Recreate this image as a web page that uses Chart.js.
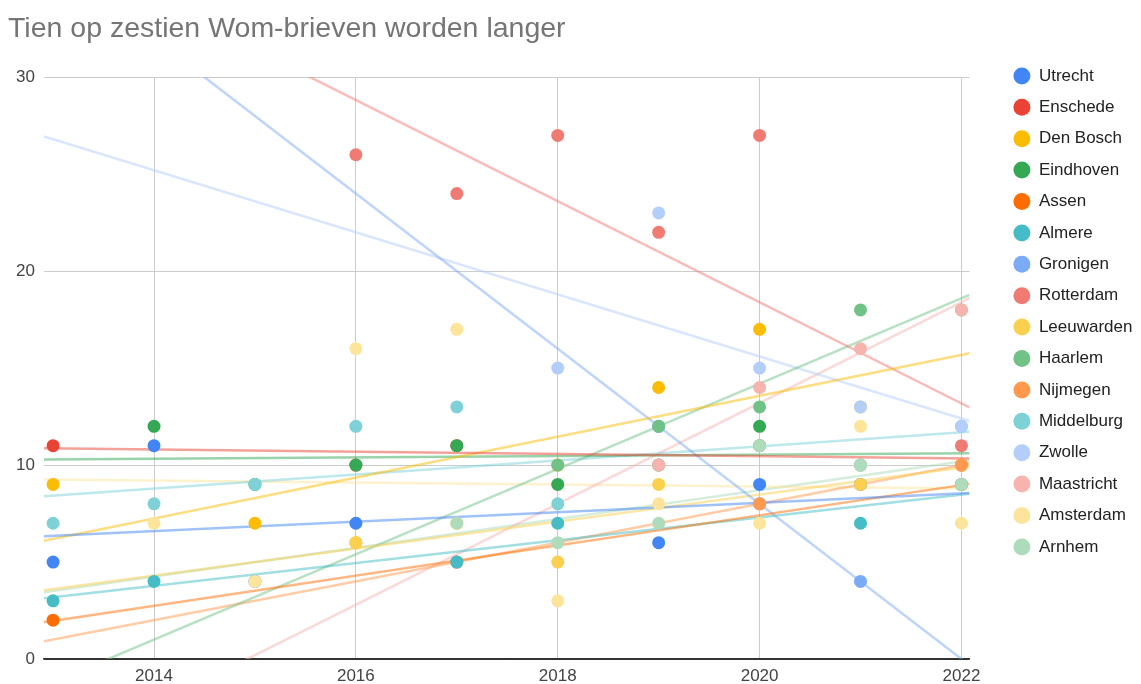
<!DOCTYPE html>
<html lang="nl">
<head>
<meta charset="utf-8">
<title>Tien op zestien Wom-brieven worden langer</title>
<script src="https://cdn.jsdelivr.net/npm/chart.js@4.4.1/dist/chart.umd.min.js"></script>
<style>
  html, body { margin: 0; padding: 0; background: #fff; }
  #wrap { width: 1141px; height: 684px; }
</style>
</head>
<body>
<div id="wrap"><canvas id="grafiek" width="1141" height="684"></canvas></div>
<script>
/* ── Gegevens ── */
const jaren = [2013, 2014, 2015, 2016, 2017, 2018, 2019, 2020, 2021, 2022];

const steden = ['Utrecht', 'Enschede', 'Den Bosch', 'Eindhoven', 'Assen', 'Almere',
    'Gronigen', 'Rotterdam', 'Leeuwarden', 'Haarlem', 'Nijmegen', 'Middelburg',
    'Zwolle', 'Maastricht', 'Amsterdam', 'Arnhem'];

const kleuren = ['#4285F4', '#EA4335', '#FBBC04', '#34A853', '#FF6D01', '#46BDC6',
    '#7BAAF7', '#F07B72', '#FCD04F', '#71C287', '#FF994D', '#7ED1D7',
    '#B3CEFB', '#F7B4AE', '#FDE49B', '#AEDCBA'];

//                2013  2014  2015  2016  2017  2018  2019  2020  2021  2022
const utrecht    = [5,    11,   4,    7,    null, null, 6,    9,    9,    null];
const enschede   = [11,   null, null, 10,   11,   null, null, 11,   null, 10];
const denBosch   = [9,    null, 7,    6,    null, 10,   14,   17,   13,   null];
const eindhoven  = [null, 12,   9,    10,   11,   9,    10,   12,   null, null];
const assen      = [2,    null, null, null, 5,    null, null, null, null, 9];
const almere     = [3,    4,    null, null, 5,    7,    null, null, 7,    9];
const gronigen   = [null, null, null, null, null, null, 12,   8,    4,    null];
const rotterdam  = [null, null, null, 26,   24,   27,   22,   27,   10,   11];
const leeuwarden = [null, null, null, 6,    7,    5,    9,    null, 9,    10];
const haarlem    = [null, null, null, null, null, 10,   12,   13,   18,   18];
const nijmegen   = [null, null, null, null, null, null, null, 8,    null, 10];
const middelburg = [7,    8,    9,    12,   13,   8,    null, 11,   10,   12];
const zwolle     = [null, null, null, null, null, 15,   23,   15,   13,   12];
const maastricht = [null, null, null, null, null, null, 10,   14,   16,   18];
const amsterdam  = [null, 7,    4,    16,   17,   3,    8,    7,    12,   7];
const arnhem     = [null, null, null, null, 7,    6,    7,    11,   10,   9];

const reeksen = [utrecht, enschede, denBosch, eindhoven, assen, almere, gronigen,
    rotterdam, leeuwarden, haarlem, nijmegen, middelburg, zwolle, maastricht,
    amsterdam, arnhem];

const xMin = 2012.91;
const xMax = 2022.08;
const xTicks = [2014, 2016, 2018, 2020, 2022];
const yTicks = [0, 10, 20, 30];

/* ── Hulpfuncties ── */
function punten(waarden) {
    return jaren
        .map((jaar, i) => ({ x: jaar, y: waarden[i] }))
        .filter(p => p.y !== null);
}

// Lineaire trendlijn (kleinste kwadraten) over het hele x-bereik
function trendlijn(waarden) {
    const pts = punten(waarden);
    const n = pts.length;
    const mx = pts.reduce((s, p) => s + p.x, 0) / n;
    const my = pts.reduce((s, p) => s + p.y, 0) / n;
    let sxy = 0, sxx = 0;
    pts.forEach(p => {
        sxy += (p.x - mx) * (p.y - my);
        sxx += (p.x - mx) * (p.x - mx);
    });
    const b = sxy / sxx;
    return [
        { x: xMin, y: my + b * (xMin - mx) },
        { x: xMax, y: my + b * (xMax - mx) }
    ];
}

function doorzichtig(hex, alfa) {
    const r = parseInt(hex.slice(1, 3), 16);
    const g = parseInt(hex.slice(3, 5), 16);
    const b = parseInt(hex.slice(5, 7), 16);
    return `rgba(${r},${g},${b},${alfa})`;
}

/* ── Datasets ── */
const puntSets = reeksen.map((waarden, i) => ({
    label: steden[i],
    data: punten(waarden),
    backgroundColor: kleuren[i],
    borderColor: kleuren[i],
    borderWidth: 0,
    pointRadius: 6.5,
    pointHoverRadius: 6.5,
    order: 100 - i   // latere reeksen bovenop
}));

const trendSets = reeksen.map((waarden, i) => ({
    type: 'line',
    label: steden[i] + ' trend',
    data: trendlijn(waarden),
    borderColor: doorzichtig(kleuren[i], 0.5),
    borderWidth: 2.5,
    pointRadius: 0,
    pointHoverRadius: 0,
    fill: false,
    tension: 0,
    order: 200
}));

// Legenda rechts bovenaan zetten, zoals in het origineel
const legendaPlaats = {
    id: 'legendaPlaats',
    afterLayout(chart) {
        const l = chart.legend;
        l.left = 999;
        l.right = chart.width;
        l.top = 53;
        l.bottom = chart.height;
        l.width = l.right - l.left;
        l.height = l.bottom - l.top;
    }
};

Chart.defaults.font.family = '"Liberation Sans", Arial, sans-serif';

new Chart(document.getElementById('grafiek'), {
    type: 'scatter',
    data: { datasets: [...puntSets, ...trendSets] },
    plugins: [legendaPlaats],
    options: {
        responsive: false,
        animation: false,
        devicePixelRatio: 1,
        layout: { padding: { left: 8, right: 28, top: 0, bottom: 0 } },
        plugins: {
            title: {
                display: true,
                text: 'Tien op zestien Wom-brieven worden langer',
                align: 'start',
                color: '#757575',
                font: { size: 28.5, weight: 'normal' },
                padding: { top: 12, bottom: 31 }
            },
            legend: {
                position: 'right',
                align: 'start',
                labels: {
                    usePointStyle: true,
                    pointStyle: 'circle',
                    boxHeight: 12,
                    padding: 14.4,
                    color: '#222',
                    font: { size: 17 },
                    filter: item => item.datasetIndex < steden.length,
                    sort: (a, b) => a.datasetIndex - b.datasetIndex
                }
            },
            tooltip: { enabled: false }
        },
        scales: {
            x: {
                type: 'linear',
                min: xMin,
                max: xMax,
                afterBuildTicks: s => { s.ticks = xTicks.map(v => ({ value: v })); },
                afterFit: s => { s.height = 25; },
                ticks: {
                    callback: v => String(v),
                    color: '#444',
                    font: { size: 17 },
                    padding: 7,
                    maxRotation: 0,
                    autoSkip: false
                },
                grid: { color: '#cccccc', drawTicks: false },
                border: { color: '#333', width: 1.5 }
            },
            y: {
                min: 0,
                max: 30,
                afterBuildTicks: s => { s.ticks = yTicks.map(v => ({ value: v })); },
                afterFit: s => { s.width = 36; },
                ticks: {
                    color: '#444',
                    font: { size: 17 },
                    padding: 9
                },
                grid: {
                    color: ctx => ctx.tick && ctx.tick.value === 0 ? '#333' : '#cccccc',
                    drawTicks: false
                },
                border: { display: false }
            }
        }
    }
});
</script>
</body>
</html>
